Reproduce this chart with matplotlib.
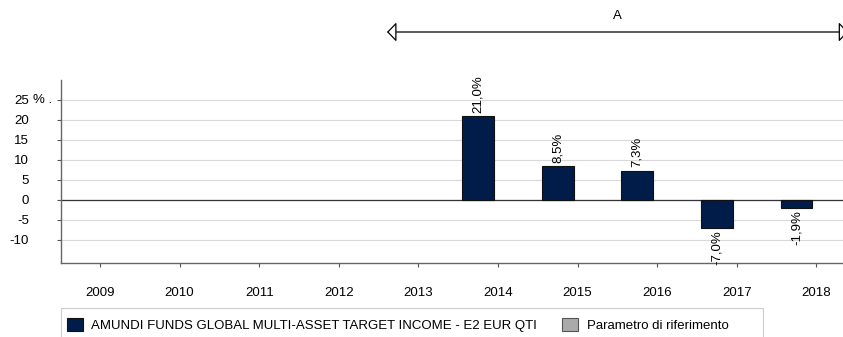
import numpy as np
import matplotlib
matplotlib.use("Agg")
import matplotlib.pyplot as plt
from matplotlib.patches import Patch, FancyArrowPatch, Rectangle

plt.rcParams['font.family'] = ['Liberation Sans', 'DejaVu Sans']

# annual performance of the fund (benchmark has no data)
years = ['2009', '2010', '2011', '2012', '2013', '2014', '2015', '2016', '2017', '2018']
fund = [np.nan, np.nan, np.nan, np.nan, np.nan, 21.0, 8.5, 7.3, -7.0, -1.9]
bench = [np.nan] * 10
yticks = [-10, -5, 0, 5, 10, 15, 20, 25]
fund_name = 'AMUNDI FUNDS GLOBAL MULTI-ASSET TARGET INCOME - E2 EUR QTI'
bench_name = 'Parametro di riferimento'

navy = '#001c48'
fs = 9.5
W, H = 843, 337
fig = plt.figure(figsize=(W / 100, H / 100), dpi=100)
ax = fig.add_axes([61 / W, (H - 263) / H, 796 / W, 183 / H])

x = np.arange(len(years))
ax.bar(x - 0.25, fund, width=0.4, color=navy, edgecolor='#111111', linewidth=0.8, zorder=3)
ax.bar(x + 0.25, bench, width=0.4, color='#aaaaaa', edgecolor='#555555', linewidth=0.8, zorder=3)

for xi, v in zip(x, fund):
    if np.isnan(v):
        continue
    lab = ('%.1f%%' % v).replace('.', ',')
    if v >= 0:
        ax.annotate(lab, (xi - 0.25, v), xytext=(0, 2.5), textcoords='offset points',
                    rotation=90, ha='center', va='bottom', fontsize=9.5, zorder=4)
    else:
        ax.annotate(lab, (xi - 0.25, v), xytext=(0, -1.5), textcoords='offset points',
                    rotation=90, ha='center', va='top', fontsize=9.5, zorder=4,
                    annotation_clip=False)

ax.set_xlim(-0.49, 9.51)
ax.set_ylim(-15.75, 30)
ax.set_xticks(x)
ax.set_xticklabels(years, fontsize=fs)
ax.set_yticks(yticks)
ax.set_yticklabels([str(t) for t in yticks], fontsize=fs)
ax.tick_params(axis='both', direction='out', length=3, width=0.8, color='#555555')
ax.tick_params(axis='x', pad=14)
ax.tick_params(axis='y', pad=20)
# unit marker next to the top tick
ax.annotate('% .', xy=(0, 25), xycoords=('axes fraction', 'data'),
            xytext=(-20.5, 0), textcoords='offset points',
            ha='left', va='center', fontsize=fs)

ax.grid(axis='y', color='#d9d9d9', linewidth=0.8, zorder=0)
ax.axhline(0, color='#333333', linewidth=0.9, zorder=2)
for s in ['top', 'right']:
    ax.spines[s].set_visible(False)
for s in ['left', 'bottom']:
    ax.spines[s].set_color('#666666')
    ax.spines[s].set_linewidth(1.0)

# period marker above the plot
arr = FancyArrowPatch((3.605, 42.0), (9.4, 42.0), transform=ax.transData,
                      arrowstyle='<|-|>,head_length=5.8,head_width=6',
                      facecolor='white', edgecolor='black', linewidth=0.9,
                      clip_on=False, mutation_scale=1, shrinkA=0, shrinkB=0)
ax.add_patch(arr)
ax.text(6.5, 46.0, 'A', ha='center', va='center', fontsize=fs, clip_on=False)

# legend box
fig.patches.append(Rectangle((61 / W, 1 - 345 / H), 702 / W, 37 / H,
                             transform=fig.transFigure, facecolor='none',
                             edgecolor='#cccccc', linewidth=0.8))
handles = [Patch(facecolor=navy, edgecolor='#111111', linewidth=0.8),
           Patch(facecolor='#aaaaaa', edgecolor='#555555', linewidth=0.8)]
leg = fig.legend(handles, [fund_name, bench_name], loc='upper left',
                 bbox_to_anchor=(61 / W, 1 - 312 / H), ncol=2, fontsize=fs,
                 handlelength=1.2, handleheight=1.2, handletextpad=0.65,
                 columnspacing=1.9, borderpad=0.45, borderaxespad=0,
                 frameon=False)

fig.savefig('out.png', dpi=100)
